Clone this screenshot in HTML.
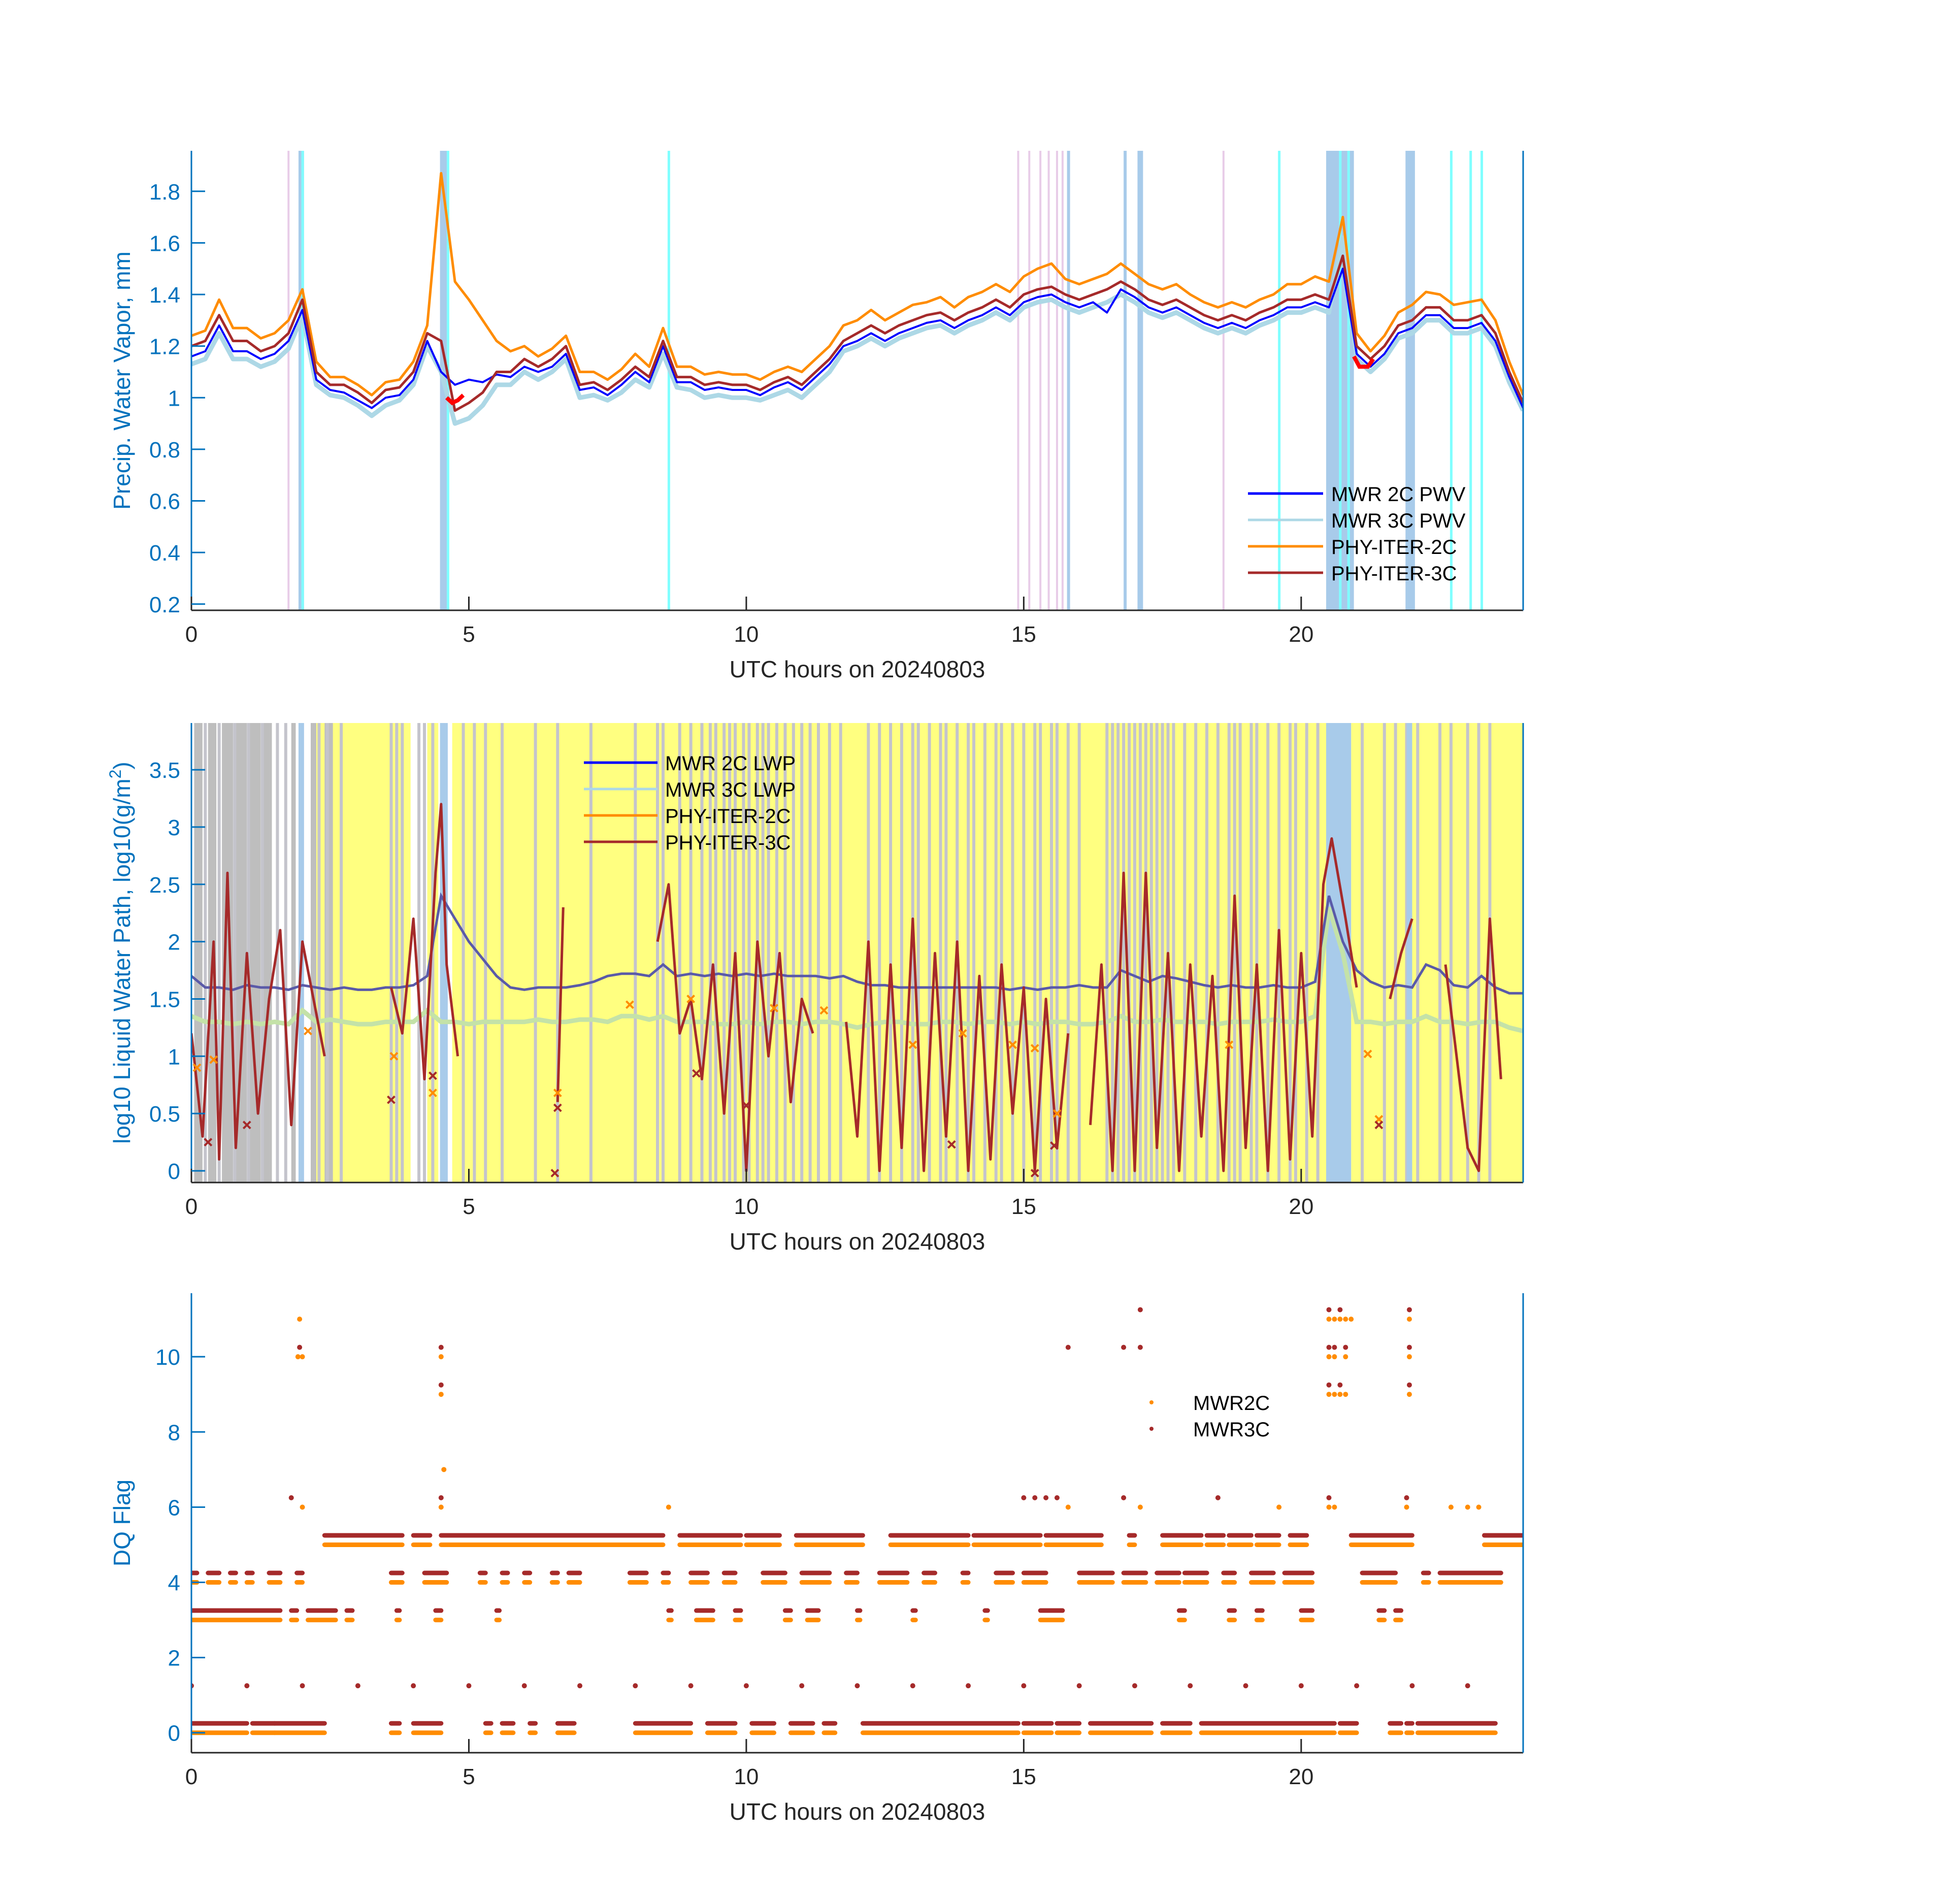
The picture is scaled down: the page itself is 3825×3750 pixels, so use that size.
<!DOCTYPE html>
<html><head><meta charset="utf-8">
<style>
html,body{margin:0;padding:0;background:#fff;}
svg{display:block;font-family:"Liberation Sans","DejaVu Sans",sans-serif;}
</style></head>
<body>
<svg id="fig" width="3825" height="3750" viewBox="0 0 3825 3750" xmlns="http://www.w3.org/2000/svg">
<defs>
<clipPath id="c1"><rect x="377" y="297" width="2623" height="905"/></clipPath>
<clipPath id="c2"><rect x="377" y="1424" width="2623" height="905"/></clipPath>
<clipPath id="c3"><rect x="377" y="2547" width="2623" height="905"/></clipPath>
</defs>
<g id="root"></g>
</svg>
<script>
// ---------- DATA ----------
const pwv3c=[1.2,1.22,1.32,1.22,1.22,1.18,1.2,1.25,1.38,1.1,1.05,1.05,1.02,0.98,1.03,1.04,1.1,1.25,1.22,0.95,0.98,1.02,1.1,1.1,1.15,1.12,1.15,1.2,1.05,1.06,1.03,1.07,1.12,1.08,1.22,1.08,1.08,1.05,1.06,1.05,1.05,1.03,1.06,1.08,1.05,1.1,1.15,1.22,1.25,1.28,1.25,1.28,1.3,1.32,1.33,1.3,1.33,1.35,1.38,1.35,1.4,1.42,1.43,1.4,1.38,1.4,1.42,1.45,1.42,1.38,1.36,1.38,1.35,1.32,1.3,1.32,1.3,1.33,1.35,1.38,1.38,1.4,1.38,1.55,1.2,1.15,1.2,1.28,1.3,1.35,1.35,1.3,1.3,1.32,1.25,1.1,0.98];
const pwv2c=[1.24,1.26,1.38,1.27,1.27,1.23,1.25,1.3,1.42,1.14,1.08,1.08,1.05,1.01,1.06,1.07,1.14,1.28,1.87,1.45,1.38,1.3,1.22,1.18,1.2,1.16,1.19,1.24,1.1,1.1,1.07,1.11,1.17,1.12,1.27,1.12,1.12,1.09,1.1,1.09,1.09,1.07,1.1,1.12,1.1,1.15,1.2,1.28,1.3,1.34,1.3,1.33,1.36,1.37,1.39,1.35,1.39,1.41,1.44,1.41,1.47,1.5,1.52,1.46,1.44,1.46,1.48,1.52,1.48,1.44,1.42,1.44,1.4,1.37,1.35,1.37,1.35,1.38,1.4,1.44,1.44,1.47,1.45,1.7,1.25,1.18,1.24,1.33,1.36,1.41,1.4,1.36,1.37,1.38,1.3,1.14,1.01];
const pwvMwr2c=[1.16,1.18,1.28,1.18,1.18,1.15,1.17,1.22,1.34,1.07,1.03,1.02,0.99,0.96,1.0,1.01,1.07,1.22,1.1,1.05,1.07,1.06,1.09,1.08,1.12,1.1,1.12,1.17,1.03,1.04,1.01,1.05,1.1,1.06,1.2,1.06,1.06,1.03,1.04,1.03,1.03,1.01,1.04,1.06,1.03,1.08,1.13,1.2,1.22,1.25,1.22,1.25,1.27,1.29,1.3,1.27,1.3,1.32,1.35,1.32,1.37,1.39,1.4,1.37,1.35,1.37,1.33,1.42,1.39,1.35,1.33,1.35,1.32,1.29,1.27,1.29,1.27,1.3,1.32,1.35,1.35,1.37,1.35,1.5,1.17,1.12,1.17,1.25,1.27,1.32,1.32,1.27,1.27,1.29,1.22,1.08,0.96];
const pwvMwr3c=[1.13,1.15,1.25,1.15,1.15,1.12,1.14,1.19,1.32,1.05,1.01,1.0,0.97,0.93,0.97,0.99,1.05,1.2,1.1,0.9,0.92,0.97,1.05,1.05,1.1,1.07,1.1,1.15,1.0,1.01,0.99,1.02,1.07,1.04,1.17,1.04,1.03,1.0,1.01,1.0,1.0,0.99,1.01,1.03,1.0,1.05,1.1,1.18,1.2,1.23,1.2,1.23,1.25,1.27,1.28,1.25,1.28,1.3,1.33,1.3,1.35,1.37,1.38,1.35,1.33,1.35,1.37,1.4,1.37,1.33,1.31,1.33,1.3,1.27,1.25,1.27,1.25,1.28,1.3,1.33,1.33,1.35,1.33,1.62,1.15,1.1,1.15,1.23,1.25,1.3,1.3,1.25,1.25,1.27,1.2,1.06,0.95];
const pwvRed=[[4.6,1.0],[4.7,0.98],[4.8,0.99],[4.9,1.01],null,[20.95,1.16],[21.05,1.12],[21.2,1.12],[21.3,1.15]];
const p1Pink=[1.75,14.9,15.1,15.3,15.45,15.6,15.7,18.6];
const p1Band=[[1.93,2.03],[4.48,4.62],[15.78,15.82],[16.8,16.83],[17.05,17.15],[20.45,20.95],[21.88,22.05]];
const p1Cyan=[2.0,4.62,8.6,19.6,20.7,20.85,22.7,23.05,23.25];
const lwpMwr2c=[1.7,1.6,1.6,1.58,1.62,1.6,1.6,1.58,1.62,1.6,1.58,1.6,1.58,1.58,1.6,1.6,1.62,1.7,2.4,2.2,2.0,1.85,1.7,1.6,1.58,1.6,1.6,1.6,1.62,1.65,1.7,1.72,1.72,1.7,1.8,1.7,1.72,1.7,1.72,1.7,1.72,1.7,1.72,1.7,1.7,1.7,1.68,1.7,1.65,1.62,1.62,1.6,1.6,1.6,1.6,1.6,1.6,1.6,1.6,1.58,1.6,1.58,1.6,1.6,1.62,1.6,1.6,1.75,1.7,1.65,1.7,1.68,1.65,1.62,1.6,1.62,1.6,1.6,1.62,1.6,1.6,1.65,2.4,2.0,1.75,1.65,1.6,1.62,1.6,1.8,1.75,1.62,1.6,1.7,1.6,1.55,1.55];
const lwpMwr3c=[1.35,1.3,1.3,1.28,1.3,1.28,1.3,1.28,1.4,1.3,1.32,1.3,1.28,1.28,1.3,1.3,1.3,1.4,1.3,1.3,1.28,1.3,1.3,1.3,1.3,1.32,1.3,1.3,1.32,1.32,1.3,1.35,1.35,1.32,1.35,1.3,1.3,1.3,1.28,1.28,1.3,1.28,1.3,1.3,1.28,1.3,1.3,1.28,1.25,1.28,1.3,1.3,1.28,1.28,1.3,1.3,1.28,1.3,1.3,1.28,1.3,1.28,1.3,1.3,1.28,1.28,1.3,1.35,1.3,1.3,1.32,1.3,1.3,1.3,1.28,1.3,1.3,1.3,1.32,1.3,1.3,1.35,2.3,1.9,1.3,1.3,1.28,1.3,1.3,1.35,1.3,1.3,1.28,1.3,1.3,1.25,1.22];
const lwp3c=[[0,1.2],[0.2,0.3],[0.4,2.0],[0.5,0.1],[0.65,2.6],[0.8,0.2],[1.0,1.9],[1.2,0.5],[1.4,1.5],[1.6,2.1],[1.8,0.4],[2.0,2.0],[2.2,1.5],[2.4,1.0],null,[3.6,1.6],[3.8,1.2],[4.0,2.2],[4.2,0.8],[4.4,2.6],[4.5,3.2],[4.6,1.8],[4.8,1.0],null,[6.6,0.6],[6.7,2.3],null,[8.4,2.0],[8.6,2.5],[8.8,1.2],[9.0,1.5],[9.2,0.8],[9.4,1.8],[9.6,0.5],[9.8,1.9],[10.0,0.0],[10.2,2.0],[10.4,1.0],[10.6,1.9],[10.8,0.6],[11.0,1.5],[11.2,1.2],null,[11.8,1.3],[12.0,0.3],[12.2,2.0],[12.4,0.0],[12.6,1.8],[12.8,0.2],[13.0,2.2],[13.2,0.0],[13.4,1.9],[13.6,0.3],[13.8,2.0],[14.0,0.0],[14.2,1.7],[14.4,0.1],[14.6,1.8],[14.8,0.5],[15.0,1.6],[15.2,0.0],[15.4,1.5],[15.6,0.2],[15.8,1.2],null,[16.2,0.4],[16.4,1.8],[16.6,0.0],[16.8,2.6],[17.0,0.0],[17.2,2.6],[17.4,0.2],[17.6,1.9],[17.8,0.0],[18.0,1.8],[18.2,0.3],[18.4,1.7],[18.6,0.0],[18.8,2.4],[19.0,0.2],[19.2,1.8],[19.4,0.0],[19.6,2.1],[19.8,0.1],[20.0,1.9],[20.2,0.3],[20.4,2.5],[20.55,2.9],[20.8,2.2],[21.0,1.6],null,[21.6,1.5],[21.8,1.9],[22.0,2.2],null,[22.6,1.8],[22.8,1.0],[23.0,0.2],[23.2,0.0],[23.4,2.2],[23.6,0.8]];
const lwp2cMarks=[[0.1,0.9],[0.4,0.97],[2.1,1.22],[3.65,1.0],[4.35,0.68],[6.6,0.68],[7.9,1.45],[9.0,1.5],[10.5,1.42],[11.4,1.4],[13.0,1.1],[13.9,1.2],[14.8,1.1],[15.2,1.07],[15.6,0.5],[21.2,1.02],[21.4,0.45],[18.7,1.1]];
const lwp3cMarks=[[0.3,0.25],[1.0,0.4],[3.6,0.62],[4.35,0.83],[6.6,0.55],[6.55,-0.02],[9.1,0.85],[10.0,0.57],[13.7,0.23],[15.2,-0.02],[15.55,0.22],[21.4,0.4]];
const p2Yellow=[[2.25,3.95],[4.25,4.45],[4.7,20.45],[20.9,24]];
const p2GreyWide=[[0.05,0.2],[0.3,0.45],[0.55,0.75],[0.8,1.0],[1.05,1.25],[1.3,1.45],[1.8,1.88],[2.15,2.25],[2.4,2.55]];
const p2Grey=[0.25,0.5,0.78,1.03,1.28,1.55,1.7,2.3,2.45,2.7,3.6,3.7,3.8,4.1,4.2,4.35,4.9,5.1,5.3,5.6,6.2,6.6,7.2,8.0,8.4,8.5,8.8,9.0,9.2,9.35,9.45,9.6,9.7,9.8,9.95,10.05,10.2,10.3,10.4,10.55,10.7,10.85,11.0,11.15,11.3,11.5,11.7,12.2,12.4,12.6,12.8,13.0,13.1,13.3,13.5,13.6,13.8,14.0,14.1,14.3,14.5,14.6,14.8,15.0,15.2,15.3,15.5,15.6,15.8,16.0,16.5,16.6,16.7,16.8,16.9,17.0,17.1,17.2,17.3,17.4,17.5,17.6,17.7,17.9,18.1,18.3,18.5,18.7,18.8,18.9,19.1,19.2,19.4,19.6,19.8,19.9,20.1,20.3,21.1,21.5,21.7,21.9,22.1,22.5,22.7,23.0,23.2,23.4];
const p2Band=[[1.93,2.03],[4.48,4.62],[20.45,20.9],[21.9,22.0]];
const dqLevels=[0,3,4,5];
const dq0=[[0,1.0],[1.1,1.5],[1.5,2.4],[3.6,3.75],[4.0,4.5],[5.3,5.4],[5.6,5.8],[6.1,6.2],[6.6,6.9],[8.0,9.0],[9.3,9.8],[10.1,10.5],[10.8,11.2],[11.4,11.6],[12.1,14.9],[15.0,15.5],[15.6,16.0],[16.2,17.3],[17.5,18.0],[18.2,20.6],[20.7,21.0],[21.6,21.8],[21.9,22.0],[22.1,23.5]];
const dq3=[[0,1.6],[1.8,1.9],[2.1,2.6],[2.8,2.9],[3.7,3.75],[4.4,4.5],[5.5,5.55],[8.6,8.65],[9.1,9.4],[9.8,9.9],[10.7,10.8],[11.1,11.3],[12.0,12.05],[13.0,13.05],[14.3,14.35],[15.3,15.7],[17.8,17.9],[18.7,18.8],[19.2,19.3],[20.0,20.2],[21.4,21.5],[21.7,21.8]];
const dq4=[[0,0.1],[0.3,0.5],[0.7,0.8],[1.0,1.1],[1.4,1.6],[1.9,2.0],[3.6,3.8],[4.2,4.6],[5.2,5.3],[5.6,5.7],[6.0,6.1],[6.5,6.6],[6.8,7.0],[7.9,8.2],[8.5,8.6],[9.0,9.3],[9.6,9.8],[10.3,10.7],[11.0,11.5],[11.8,12.0],[12.4,12.9],[13.2,13.4],[13.9,14.0],[14.5,14.8],[15.0,15.4],[16.0,16.6],[16.8,17.2],[17.4,17.8],[17.9,18.3],[18.6,18.8],[19.1,19.5],[19.7,20.2],[21.1,21.7],[22.2,22.3],[22.5,23.6]];
const dq5=[[2.4,3.8],[4.0,4.3],[4.5,5.9],[5.9,8.3],[8.3,8.5],[8.8,9.9],[10.0,10.6],[10.9,12.1],[12.6,14.0],[14.1,15.3],[15.4,16.4],[16.9,17.0],[17.5,18.2],[18.3,18.6],[18.7,19.1],[19.2,19.6],[19.8,20.1],[20.9,22.0],[23.3,24]];
const dqHigh2c=[[2.0,6],[4.5,6],[8.6,6],[15.8,6],[17.1,6],[19.6,6],[20.5,6],[20.6,6],[21.9,6],[22.7,6],[23.0,6],[23.2,6],[4.55,7],[4.5,9],[20.5,9],[20.6,9],[20.7,9],[20.8,9],[21.95,9],[1.92,10],[2.0,10],[4.5,10],[20.5,10],[20.6,10],[20.8,10],[21.95,10],[1.95,11],[20.5,11],[20.6,11],[20.7,11],[20.8,11],[20.9,11],[21.95,11]];
const dqHigh3c=[[1.8,6],[4.5,6],[15.0,6],[15.2,6],[15.4,6],[15.6,6],[16.8,6],[18.5,6],[20.5,6],[21.9,6],[4.5,9],[20.5,9],[20.7,9],[21.95,9],[1.95,10],[4.5,10],[15.8,10],[16.8,10],[17.1,10],[20.5,10],[20.6,10],[20.8,10],[21.95,10],[17.1,11],[20.5,11],[20.7,11],[21.95,11]];
const dqOne3c=[0,1,2,3,4,5,6,7,8,9,10,11,12,13,14,15,16,17,18,19,20,21,22,23];
const xTicks=[0,5,10,15,20];
const y1Ticks=[0.2,0.4,0.6,0.8,1,1.2,1.4,1.6,1.8];
const y2Ticks=[0,0.5,1,1.5,2,2.5,3,3.5];
const y3Ticks=[0,2,4,6,8,10];

// ---------- GEOMETRY ----------
const L=377,R=3000;
const P1={top:297,bot:1202,ymin:0.176,ymax:1.957};
const P2={top:1424,bot:2329,ymin:-0.102,ymax:3.908};
const P3={top:2547,bot:3452,ymin:-0.53,ymax:11.69};
const xs=t=>L+(t/24)*(R-L);
const ysF=P=>v=>P.bot-(v-P.ymin)/(P.ymax-P.ymin)*(P.bot-P.top);
const y1=ysF(P1),y2=ysF(P2),y3=ysF(P3);
const NS='http://www.w3.org/2000/svg';
const root=document.getElementById('root');
function mk(tag,attrs,parent){const e=document.createElementNS(NS,tag);for(const k in attrs)e.setAttribute(k,attrs[k]);(parent||root).appendChild(e);return e;}
function grp(name,clip){const g=mk('g',clip?{'clip-path':'url(#'+clip+')'}:{});return g;}
function evenPath(arr,ys){return arr.map((v,i)=>(i?'L':'M')+xs(i*24/(arr.length-1)).toFixed(1)+' '+ys(v).toFixed(1)).join(' ');}
function pairPath(arr,ys){let d='',pen=false;arr.forEach(p=>{if(!p){pen=false;return;}d+=(pen?'L':'M')+xs(p[0]).toFixed(1)+' '+ys(p[1]).toFixed(1)+' ';pen=true;});return d;}

// ---------- PANEL 1 ----------
let g=grp('pwv-background','c1');
p1Pink.forEach(t=>{const e=mk('rect',{x:xs(t)-2,y:P1.top,width:4,height:P1.bot-P1.top,fill:'#e8cce8'},g);});
p1Band.forEach(b=>{const e=mk('rect',{x:xs(b[0]),y:P1.top,width:Math.max(6,xs(b[1])-xs(b[0])),height:P1.bot-P1.top,fill:'#a8cbea'},g);});
p1Cyan.forEach(t=>{const e=mk('rect',{x:xs(t)-2,y:P1.top,width:5,height:P1.bot-P1.top,fill:'#80ffff'},g);});
g=grp('pwv-series','c1');
[[pwvMwr3c,'#add8e6',9,'mwr-3c-pwv-line'],[pwvMwr2c,'#0000ff',4,'mwr-2c-pwv-line'],[pwv2c,'#ff8c00',5,'phy-iter-2c-pwv-line'],[pwv3c,'#a52a2a',5,'phy-iter-3c-pwv-line']].forEach(s=>{const e=mk('path',{d:evenPath(s[0],y1),fill:'none',stroke:s[1],'stroke-width':s[2],'stroke-linejoin':'round'},g);});
{const e=mk('path',{d:pairPath(pwvRed,y1),fill:'none',stroke:'#ff0000','stroke-width':8},g);}

// ---------- PANEL 2 ----------
g=grp('lwp-background','c2');
p2Yellow.forEach(b=>{const e=mk('rect',{x:xs(b[0]),y:P2.top,width:xs(b[1])-xs(b[0]),height:P2.bot-P2.top,fill:'#ffff80'},g);});
p2GreyWide.forEach(b=>{const e=mk('rect',{x:xs(b[0]),y:P2.top,width:xs(b[1])-xs(b[0]),height:P2.bot-P2.top,fill:'#bebebe'},g);});
p2Grey.forEach(t=>{const e=mk('rect',{x:xs(t)-3,y:P2.top,width:6,height:P2.bot-P2.top,fill:'#c4c4cc'},g);});
p2Band.forEach(b=>{const e=mk('rect',{x:xs(b[0]),y:P2.top,width:Math.max(6,xs(b[1])-xs(b[0])),height:P2.bot-P2.top,fill:'#a8cbea'},g);});
g=grp('lwp-series','c2');
{let e=mk('path',{d:evenPath(lwpMwr3c,y2),fill:'none',stroke:'#c4e2a8','stroke-width':9},g);
e=mk('path',{d:evenPath(lwpMwr2c,y2),fill:'none',stroke:'#5a5aa8','stroke-width':5},g);
e=mk('path',{d:pairPath(lwp3c,y2),fill:'none',stroke:'#a52a2a','stroke-width':5,'stroke-linejoin':'round'},g);}
function xMark(p,col,name){const cx=xs(p[0]),cy=y2(p[1]),s=7;const e=mk('path',{d:`M${cx-s} ${cy-s}L${cx+s} ${cy+s}M${cx-s} ${cy+s}L${cx+s} ${cy-s}`,stroke:col,'stroke-width':4},g);}
lwp2cMarks.forEach(p=>xMark(p,'#ff8c00','phy-iter-2c-marker'));
lwp3cMarks.forEach(p=>xMark(p,'#a52a2a','phy-iter-3c-marker'));

// ---------- PANEL 3 ----------
g=grp('dq-flags','c3');
const dqSets=[dq0,dq3,dq4,dq5];
dqSets.forEach((set,li)=>{const lv=dqLevels[li];
 set.forEach(iv=>{
  let e=mk('line',{x1:xs(iv[0]),x2:xs(iv[1]),y1:y3(lv),y2:y3(lv),stroke:'#ff8c00','stroke-width':9,'stroke-linecap':'round'},g);
  e=mk('line',{x1:xs(iv[0]),x2:xs(iv[1]),y1:y3(lv+0.25),y2:y3(lv+0.25),stroke:'#a52a2a','stroke-width':9,'stroke-linecap':'round'},g);
 });});
dqHigh2c.forEach(p=>{const e=mk('circle',{cx:xs(p[0]),cy:y3(p[1]),r:5,fill:'#ff8c00'},g);});
dqHigh3c.forEach(p=>{const e=mk('circle',{cx:xs(p[0]),cy:y3(p[1]+0.25),r:5,fill:'#a52a2a'},g);});
dqOne3c.forEach(t=>{const e=mk('circle',{cx:xs(t),cy:y3(1.25),r:5,fill:'#a52a2a'},g);});

// ---------- AXES ----------
function axes(P,ys,yt,fmt,ylabel,name,lblParts){
 const a=grp(name+'-axes');
 let e=mk('line',{x1:L,x2:R,y1:P.bot,y2:P.bot,stroke:'#262626','stroke-width':3},a);
 e=mk('line',{x1:L,x2:L,y1:P.top,y2:P.bot,stroke:'#0072bd','stroke-width':3},a);
 e=mk('line',{x1:R,x2:R,y1:P.top,y2:P.bot,stroke:'#0072bd','stroke-width':3},a);
 xTicks.forEach(t=>{const x=xs(t);
  let k=mk('line',{x1:x,x2:x,y1:P.bot,y2:P.bot-27,stroke:'#262626','stroke-width':3},a);
  k=mk('text',{x:x,y:P.bot+62,'text-anchor':'middle','font-size':44,fill:'#262626'},a);k.textContent=t;});
 yt.forEach(v=>{const y=ys(v);
  let k=mk('line',{x1:L,x2:L+27,y1:y,y2:y,stroke:'#0072bd','stroke-width':3},a);
  k=mk('text',{x:355,y:y+16,'text-anchor':'end','font-size':44,fill:'#0072bd'},a);k.textContent=fmt(v);});
 e=mk('text',{x:(L+R)/2,y:P.bot+132,'text-anchor':'middle','font-size':46,fill:'#262626'},a);e.textContent='UTC hours on 20240803';
 const cy=(P.top+P.bot)/2;
 e=mk('text',{x:0,y:0,'text-anchor':'middle','font-size':46,fill:'#0072bd',transform:`translate(256 ${cy}) rotate(-90)`},a);
 
 if(lblParts){const t1=mk('tspan',{},e);t1.textContent=lblParts[0];const t2=mk('tspan',{'baseline-shift':'super','font-size':32},e);t2.textContent=lblParts[1];const t3=mk('tspan',{},e);t3.textContent=lblParts[2];}
 else e.textContent=ylabel;
}
axes(P1,y1,y1Ticks,v=>String(v),'Precip. Water Vapor, mm','pwv');
axes(P2,y2,y2Ticks,v=>String(v),'','lwp',['log10 Liquid Water Path, log10(g/m','2',')']);
axes(P3,y3,y3Ticks,v=>String(v),'DQ Flag','dq');

// ---------- LEGENDS ----------
function legend(items,x0,x1,tx,ys0,dy,name){const lg=grp(name);
 items.forEach((it,i)=>{const y=ys0+i*dy;
  let e=mk('line',{x1:x0,x2:x1,y1:y,y2:y,stroke:it[1],'stroke-width':it[2]},lg);
  e=mk('text',{x:tx,y:y+15,'font-size':40,fill:'#000'},lg);e.textContent=it[0];});}
legend([['MWR 2C PWV','#0000ff',5],['MWR 3C PWV','#add8e6',5],['PHY-ITER-2C','#ff8c00',5],['PHY-ITER-3C','#a52a2a',5]],2458,2606,2622,972,52,'pwv-legend');
legend([['MWR 2C LWP','#0000ff',5],['MWR 3C LWP','#add8e6',5],['PHY-ITER-2C','#ff8c00',5],['PHY-ITER-3C','#a52a2a',5]],1150,1295,1310,1502,52,'lwp-legend');
{const lg=grp('dq-legend');
 [['MWR2C','#ff8c00'],['MWR3C','#a52a2a']].forEach((it,i)=>{const y=2762+i*52;
  let e=mk('circle',{cx:2268,cy:y,r:4,fill:it[1]},lg);
  e=mk('text',{x:2350,y:y+15,'font-size':40,fill:'#000'},lg);e.textContent=it[0];});}
</script>
</body></html>
